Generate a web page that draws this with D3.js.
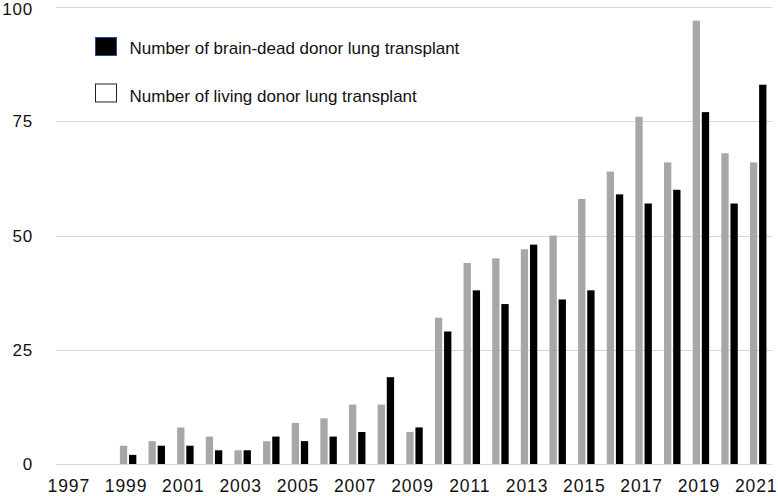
<!DOCTYPE html>
<html>
<head>
<meta charset="utf-8">
<script src="https://cdn.jsdelivr.net/npm/d3@7"></script>
<style>
  html, body { margin: 0; padding: 0; background: #fff; }
  svg { display: block; }
  text { font-family: "Liberation Sans", Arial, Helvetica, sans-serif; fill: #111; }
</style>
</head>
<body>
<svg id="chart" width="778" height="496"></svg>
<script>
const years = d3.range(1997, 2022).map(String);
const greyValues = [0, 0, 4, 5, 8, 6, 3, 5, 9, 10, 13, 13, 7, 32, 44, 45, 47, 50, 58, 64, 76, 66, 97, 68, 66];
const blackValues = [0, 0, 2, 4, 4, 3, 3, 6, 5, 6, 7, 19, 8, 29, 38, 35, 48, 36, 38, 59, 57, 60, 77, 57, 83];
const yTicks = [0, 25, 50, 75, 100];
const xTickLabels = years.filter((d, i) => i % 2 === 0);
const legendLabels = ["Number of brain-dead donor lung transplant", "Number of living donor lung transplant"];

const svg = d3.select("#chart");
const x = d3.scaleBand().domain(years).range([56.5, 772.5]).padding(0);
const y = d3.scaleLinear().domain([0, 100]).range([464, 7]);

// gridlines
svg.append("g").selectAll("line").data(yTicks).join("line")
  .attr("x1", 56.5).attr("x2", 772.5)
  .attr("y1", d => Math.round(y(d)) + 0.5).attr("y2", d => Math.round(y(d)) + 0.5)
  .attr("stroke", "#d6d6d6").attr("stroke-width", 1.2);

// y tick labels
svg.append("g").selectAll("text").data(yTicks).join("text")
  .attr("x", 33).attr("y", d => Math.max(y(d), 8.5)).attr("dy", "0.36em")
  .attr("text-anchor", "end").attr("font-size", 17)
  .style("letter-spacing", "0.8px")
  .text(d => d);

// x tick labels
const xAxis = d3.axisBottom(x).tickValues(xTickLabels).tickSize(0).tickPadding(0);
const gx = svg.append("g").attr("transform", "translate(-2,476)").call(xAxis);
gx.select(".domain").remove();
gx.selectAll("text").attr("font-size", 17.5).attr("dy", "0.93em")
  .attr("font-family", "Liberation Sans, Arial, sans-serif").attr("fill", "#111")
  .style("letter-spacing", "0.9px");

const step = x.bandwidth();
const barW = step * 0.255;
const gap = step * 0.065;

const bars = svg.append("g");
bars.selectAll("rect.grey").data(years).join("rect").attr("class", "grey")
  .attr("x", (d) => x(d) + step / 2 - gap / 2 - barW)
  .attr("width", barW)
  .attr("y", (d, i) => y(greyValues[i]))
  .attr("height", (d, i) => y(0) - y(greyValues[i]))
  .attr("fill", "#aaa6a6");
bars.selectAll("rect.black").data(years).join("rect").attr("class", "black")
  .attr("x", (d) => x(d) + step / 2 + gap / 2)
  .attr("width", barW)
  .attr("y", (d, i) => y(blackValues[i]))
  .attr("height", (d, i) => y(0) - y(blackValues[i]))
  .attr("fill", "#000");

// legend
const legend = svg.append("g");
const legendRows = [
  { label: legendLabels[0], fill: "#000", stroke: "#2b4a8f", top: 37.5, base: 53.5 },
  { label: legendLabels[1], fill: "#fff", stroke: "#222", top: 84, base: 101.5 }
];
legendRows.forEach(r => {
  legend.append("rect").attr("x", 95.5).attr("y", r.top).attr("width", 21).attr("height", 18)
    .attr("fill", r.fill).attr("stroke", r.stroke).attr("stroke-width", 1);
  legend.append("text").attr("x", 129.5).attr("y", r.base).attr("font-size", 17).text(r.label);
});
</script>
</body>
</html>
